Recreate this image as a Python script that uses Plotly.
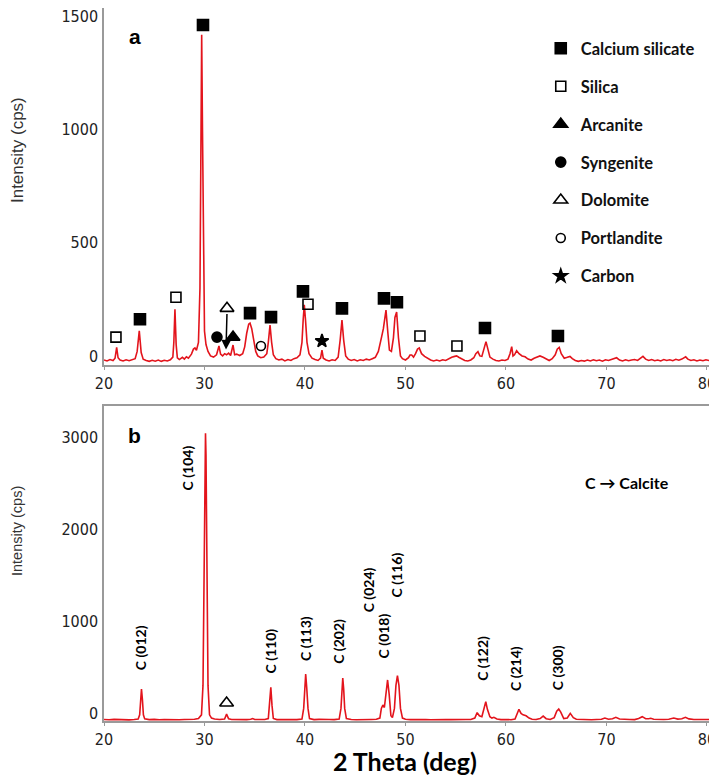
import plotly.graph_objects as go

# ---------------- data ----------------
# Panel a: XRD pattern (2theta, intensity)
pattern_a = [
    (20.0, -18), (20.3, -22), (20.6, -16), (20.9, -20), (21.1, -10), (21.26, 38), (21.4, -8), (21.6, -18),
    (21.9, -22), (22.2, -17), (22.5, -21), (22.8, -18), (23.1, -12), (23.3, 20), (23.51, 111), (23.7, 15),
    (23.9, -14), (24.2, -20), (24.5, -24), (24.8, -19), (25.1, -23), (25.4, -18), (25.7, -24), (26.0, -19),
    (26.3, -22), (26.6, -17), (26.85, -5), (26.95, 60), (27.06, 206), (27.18, 50), (27.3, -8), (27.5, -16),
    (27.8, -6), (28.0, -14), (28.2, -4), (28.4, -10), (28.7, 8), (28.9, 30), (29.05, 35), (29.2, 25),
    (29.4, 60), (29.55, 300), (29.65, 1000), (29.72, 1417), (29.8, 1000), (29.9, 300), (30.0, 110),
    (30.15, 50), (30.35, 20), (30.6, 0), (30.9, -5), (31.2, 5), (31.44, 44), (31.6, 8), (31.8, 0),
    (32.0, 10), (32.2, 5), (32.4, 12), (32.6, 2), (32.84, 48), (33.0, 5), (33.2, 8), (33.5, 2), (33.8, 10),
    (34.0, 40), (34.2, 100), (34.4, 140), (34.53, 145), (34.7, 120), (34.9, 70), (35.1, 20), (35.3, 0),
    (35.6, -8), (35.9, -5), (36.2, 10), (36.35, 60), (36.52, 136), (36.68, 60), (36.85, 5), (37.1, -12),
    (37.4, -18), (37.7, -14), (38.0, -22), (38.3, -16), (38.6, -20), (38.9, -12), (39.2, -8), (39.5, 5),
    (39.7, 60), (39.82, 160), (39.93, 225), (40.05, 160), (40.2, 60), (40.4, 10), (40.7, -10), (41.0, -16),
    (41.3, -20), (41.55, -10), (41.69, 26), (41.82, -10), (42.1, -18), (42.4, -22), (42.7, -17), (43.0, -20),
    (43.3, -5), (43.5, 70), (43.68, 158), (43.85, 70), (44.05, 0), (44.3, -14), (44.6, -20), (44.9, -16),
    (45.2, -22), (45.5, -17), (45.8, -20), (46.1, -14), (46.4, -18), (46.7, -12), (47.0, -6), (47.3, 20),
    (47.5, 70), (47.63, 85), (47.8, 120), (48.06, 202), (48.25, 100), (48.4, 26), (48.6, 20), (48.8, 80),
    (48.95, 170), (49.12, 194), (49.3, 80), (49.5, 0), (49.7, -12), (50.0, -18), (50.3, -8), (50.45, 4),
    (50.62, 4), (50.8, -5), (51.0, 10), (51.2, 30), (51.37, 35), (51.6, 10), (51.9, -2), (52.2, -10),
    (52.5, -18), (52.8, -22), (53.1, -18), (53.4, -22), (53.7, -17), (54.0, -20), (54.3, -12), (54.6, -6),
    (54.9, -2), (55.09, 0), (55.3, -6), (55.6, -14), (55.9, -20), (56.2, -22), (56.5, -18), (56.8, -8),
    (57.0, 10), (57.21, 19), (57.4, 0), (57.6, -2), (57.8, 35), (58.01, 63), (58.2, 30), (58.4, -5),
    (58.7, -14), (59.0, -20), (59.3, -22), (59.6, -18), (59.9, -20), (60.2, -14), (60.4, 10), (60.57, 41),
    (60.7, 0), (60.85, 5), (61.06, 23), (61.3, 10), (61.6, 0), (61.9, -4), (62.2, -14), (62.5, -18),
    (62.8, -10), (63.1, -4), (63.38, 0), (63.7, -6), (64.0, -14), (64.3, -20), (64.6, -12), (64.9, 5),
    (65.1, 30), (65.3, 38), (65.5, 10), (65.8, -10), (66.1, -6), (66.37, -2), (66.6, -12), (66.9, -20),
    (67.2, -24), (67.5, -20), (67.8, -23), (68.1, -18), (68.4, -22), (68.7, -17), (69.0, -21), (69.3, -18),
    (69.6, -23), (69.9, -17), (70.2, -20), (70.5, -16), (70.7, -12), (71.01, -8), (71.3, -18), (71.6, -22),
    (71.9, -17), (72.2, -21), (72.5, -18), (72.8, -16), (73.1, -20), (73.4, -12), (73.63, -2), (73.9, -14),
    (74.2, -20), (74.5, -16), (74.8, -21), (75.1, -18), (75.4, -22), (75.7, -16), (76.0, -20), (76.3, -17),
    (76.6, -21), (76.9, -15), (77.2, -19), (77.5, -14), (77.88, -4), (78.1, -14), (78.4, -20), (78.7, -17),
    (79.0, -22), (79.3, -18), (79.6, -21), (79.9, -17), (80.2, -20), (80.5, -18), (80.7, -19),
]

# Panel b: XRD pattern (2theta, intensity)
pattern_b = [
    (20.0, -70), (20.5, -74), (21.0, -69), (21.5, -73), (22.0, -70), (22.5, -75), (23.0, -71), (23.4, -66),
    (23.55, -20), (23.65, 150), (23.73, 261), (23.82, 150), (23.92, -20), (24.05, -64), (24.5, -72),
    (25.0, -69), (25.5, -74), (26.0, -70), (26.5, -73), (27.0, -69), (27.5, -74), (28.0, -70), (28.5, -72),
    (29.0, -68), (29.4, -60), (29.7, -20), (29.85, 300), (29.95, 1500), (30.05, 2800), (30.1, 3040),
    (30.15, 2800), (30.25, 1500), (30.35, 300), (30.5, -20), (30.7, -55), (31.0, -66), (31.5, -70),
    (32.0, -65), (32.12, -35), (32.2, -11), (32.28, -35), (32.4, -62), (32.7, -70), (33.2, -73), (33.7, -69),
    (34.2, -72), (34.6, -68), (34.8, -60), (35.0, -70), (35.5, -73), (36.0, -70), (36.35, -60), (36.48, 80),
    (36.6, 279), (36.72, 80), (36.85, -60), (37.2, -72), (37.7, -69), (38.2, -73), (38.7, -70), (39.2, -72),
    (39.7, -66), (39.87, 50), (39.97, 280), (40.07, 424), (40.17, 280), (40.3, 50), (40.45, -60), (40.9, -72),
    (41.4, -69), (41.9, -73), (42.4, -70), (42.9, -72), (43.4, -66), (43.58, 50), (43.68, 260), (43.76, 380),
    (43.85, 260), (43.95, 50), (44.12, -60), (44.6, -71), (45.1, -74), (45.6, -70), (46.1, -73), (46.6, -70),
    (47.1, -68), (47.45, -55), (47.6, 50), (47.75, 87), (47.9, 60), (48.05, 200), (48.22, 359), (48.38, 200),
    (48.55, -30), (48.7, -50), (48.9, 50), (49.05, 300), (49.2, 406), (49.35, 300), (49.5, 50), (49.7, -55),
    (50.0, -68), (50.5, -72), (51.0, -69), (51.5, -73), (52.0, -70), (52.5, -74), (53.0, -70), (53.5, -73),
    (54.0, -70), (54.5, -72), (55.0, -69), (55.5, -73), (56.0, -70), (56.5, -71), (56.9, -55), (57.13, 4),
    (57.35, -30), (57.6, -40), (57.8, 40), (57.99, 123), (58.15, 40), (58.4, -40), (58.6, -55), (58.8, -47),
    (59.1, -65), (59.5, -72), (60.0, -70), (60.5, -73), (60.9, -65), (61.1, -20), (61.29, 40), (61.5, -5),
    (61.7, -20), (62.0, -30), (62.3, -55), (62.6, -68), (63.0, -70), (63.4, -60), (63.7, -33), (64.0, -62),
    (64.4, -71), (64.8, -50), (65.05, 20), (65.25, 43), (65.45, 10), (65.75, -60), (66.1, -55), (66.4, -4),
    (66.7, -50), (67.0, -68), (67.5, -72), (68.0, -70), (68.5, -73), (69.0, -71), (69.5, -68), (69.84, -55),
    (70.2, -68), (70.6, -62), (70.93, -47), (71.3, -66), (71.8, -72), (72.3, -70), (72.8, -72), (73.2, -60),
    (73.56, -40), (73.9, -62), (74.2, -62), (74.4, -58), (74.7, -68), (75.2, -72), (75.7, -70), (76.2, -68),
    (76.7, -55), (77.1, -66), (77.5, -62), (77.86, -47), (78.2, -64), (78.7, -71), (79.2, -70), (79.7, -72),
    (80.2, -70), (80.7, -71),
]

# Phase markers in panel a: (2theta, intensity) of each symbol
calcium_silicate = [(29.85, 1460), (23.58, 162), (34.53, 189), (36.62, 171), (39.80, 285), (43.68, 210),
                    (47.86, 254), (49.15, 237), (57.91, 123), (65.17, 88)]
silica = [(21.19, 83), (27.16, 259), (40.30, 228), (51.44, 88), (55.12, 44)]
arcanite = [(32.84, 83)]
syngenite = [(31.24, 83)]
dolomite = [(32.24, 210)]
portlandite = [(35.62, 44)]
carbon = [(41.69, 66)]

# Panel b: calcite reflection labels (label, 2theta, label centre intensity)
calcite_labels = ["C (012)", "C (104)", "C (110)", "C (113)", "C (202)", "C (024)", "C (018)",
                  "C (116)", "C (122)", "C (214)", "C (300)"]
calcite_label_x = [23.7, 28.3, 36.6, 40.0, 43.4, 46.4, 47.9, 49.2, 57.7, 60.9, 65.1]
calcite_label_y = [707, 2663, 677, 815, 775, 1337, 837, 1500, 598, 478, 489]
dolomite_b = [(32.2, 109)]

ticks_a = [0, 500, 1000, 1500]
ticks_b = [0, 1000, 2000, 3000]
ticks_x = [20, 30, 40, 50, 60, 70, 80]

# ---------------- figure ----------------
RED = "#e3141c"
fig = go.Figure()

fig.add_trace(go.Scatter(x=[p[0] for p in pattern_a], y=[p[1] for p in pattern_a], mode="lines",
                         line=dict(color=RED, width=1.6), showlegend=False, xaxis="x", yaxis="y",
                         hoverinfo="skip"))
fig.add_trace(go.Scatter(x=[p[0] for p in pattern_b], y=[p[1] for p in pattern_b], mode="lines",
                         line=dict(color=RED, width=1.6), showlegend=False, xaxis="x2", yaxis="y2",
                         hoverinfo="skip"))

phases = [
    ("Calcium silicate", calcium_silicate, "square", "black", 11),
    ("Silica", silica, "square-open", "black", 10),
    ("Arcanite", arcanite, "triangle-up", "black", 12),
    ("Syngenite", syngenite, "circle", "black", 10),
    ("Dolomite", dolomite, "triangle-up-open", "black", 12),
    ("Portlandite", portlandite, "circle-open", "black", 9),
    ("Carbon", carbon, "star", "black", 10),
]
for i, (name, pts, sym, col, size) in enumerate(phases):
    fig.add_trace(go.Scatter(x=[p[0] for p in pts], y=[p[1] for p in pts], mode="markers", name=name,
                             marker=dict(symbol=sym, color=col, size=size, line=dict(color=col, width=1.6)),
                             legendgroup=f"g{i}", xaxis="x", yaxis="y"))

fig.add_trace(go.Scatter(x=[p[0] for p in dolomite_b], y=[p[1] for p in dolomite_b], mode="markers",
                         marker=dict(symbol="triangle-up-open", color="black", size=12,
                                     line=dict(color="black", width=1.6)),
                         showlegend=False, xaxis="x2", yaxis="y2"))

tickfont = dict(family="Liberation Sans Narrow, DejaVu Sans Condensed, Liberation Sans", size=16,
                color="#222")
axis_common = dict(showline=True, linecolor="#9a9a9a", linewidth=1.5, mirror=True, showgrid=False,
                   zeroline=False, tickfont=tickfont, automargin=False, ticklabeloverflow="allow")

# the page body adds an 8px offset, so the figure is 8px smaller than the window
fig.update_layout(
    width=709, height=771,
    margin=dict(l=96, r=3, t=0, b=58),
    paper_bgcolor="white", plot_bgcolor="white",
    xaxis=dict(domain=[0, 1], anchor="y", range=[20, 80.7], tickvals=ticks_x, ticks="outside",
               ticklen=3, tickcolor="#9a9a9a", **axis_common),
    yaxis=dict(domain=[0.4993, 1.0], anchor="x", range=[-40, 1535], tickvals=ticks_a, ticks="",
               ticklabelstandoff=1, **axis_common),
    xaxis2=dict(domain=[0, 1], anchor="y2", range=[20, 80.7], tickvals=ticks_x, ticks="outside",
                ticklen=3, tickcolor="#9a9a9a", **axis_common),
    yaxis2=dict(domain=[0, 0.4418], anchor="x2", range=[-87, 3337], tickvals=ticks_b, ticks="",
                ticklabelstandoff=1, **axis_common),
    legend=dict(x=0.716, xanchor="left", y=0.9677, yanchor="top", bgcolor="rgba(0,0,0,0)",
                font=dict(family="Lato, Open Sans, sans-serif", size=16.5, color="#111", weight="bold"),
                tracegroupgap=13.5, traceorder="grouped", itemwidth=30),
)

ann = []
C = dict(xanchor="center", yanchor="middle", showarrow=False)
# panel letters
ann.append(dict(text="<b>a</b>", xref="x domain", yref="y domain", x=0.05, y=0.919,
                font=dict(family="Liberation Sans, Arial", size=21, color="black"), **C))
ann.append(dict(text="<b>b</b>", xref="x2 domain", yref="y2 domain", x=0.05, y=0.905,
                font=dict(family="Liberation Sans, Arial", size=21, color="black"), **C))
# arrow dolomite -> peak
ann.append(dict(x=32.14, y=28, xref="x", yref="y", ax=32.24, ay=192, axref="x", ayref="y",
                showarrow=True, arrowhead=2, arrowsize=1.3, arrowwidth=1.5, arrowcolor="black", text=""))
# calcite labels
for t, lx, ly in zip(calcite_labels, calcite_label_x, calcite_label_y):
    ann.append(dict(text=f"<b>{t}</b>", x=lx, y=ly, xref="x2", yref="y2", textangle=-90,
                    font=dict(family="Lato, Open Sans, sans-serif", size=14, color="black"), **C))
ann.append(dict(text="<b>C \u2192 Calcite</b>", xref="x2 domain", yref="y2 domain", x=0.857, y=0.756,
                font=dict(family="Lato, Open Sans, sans-serif", size=16, color="black"), **C))
# axis titles
ann.append(dict(text="Intensity (cps)", xref="paper", yref="paper", x=-0.1426, y=0.8008,
                textangle=-90, font=dict(family="Liberation Sans, Arial", size=17, color="#333"), **C))
ann.append(dict(text="Intensity (cps)", xref="paper", yref="paper", x=-0.1426, y=0.2665,
                textangle=-90, font=dict(family="Liberation Sans, Arial", size=14.5, color="#333"), **C))
ann.append(dict(text="<b>2 Theta (deg)</b>", xref="paper", yref="paper", x=0.493, y=-0.0561,
                font=dict(family="Lato, Open Sans, sans-serif", size=25, color="black"), **C))
fig.update_layout(annotations=ann)

fig.write_html("out.html")
